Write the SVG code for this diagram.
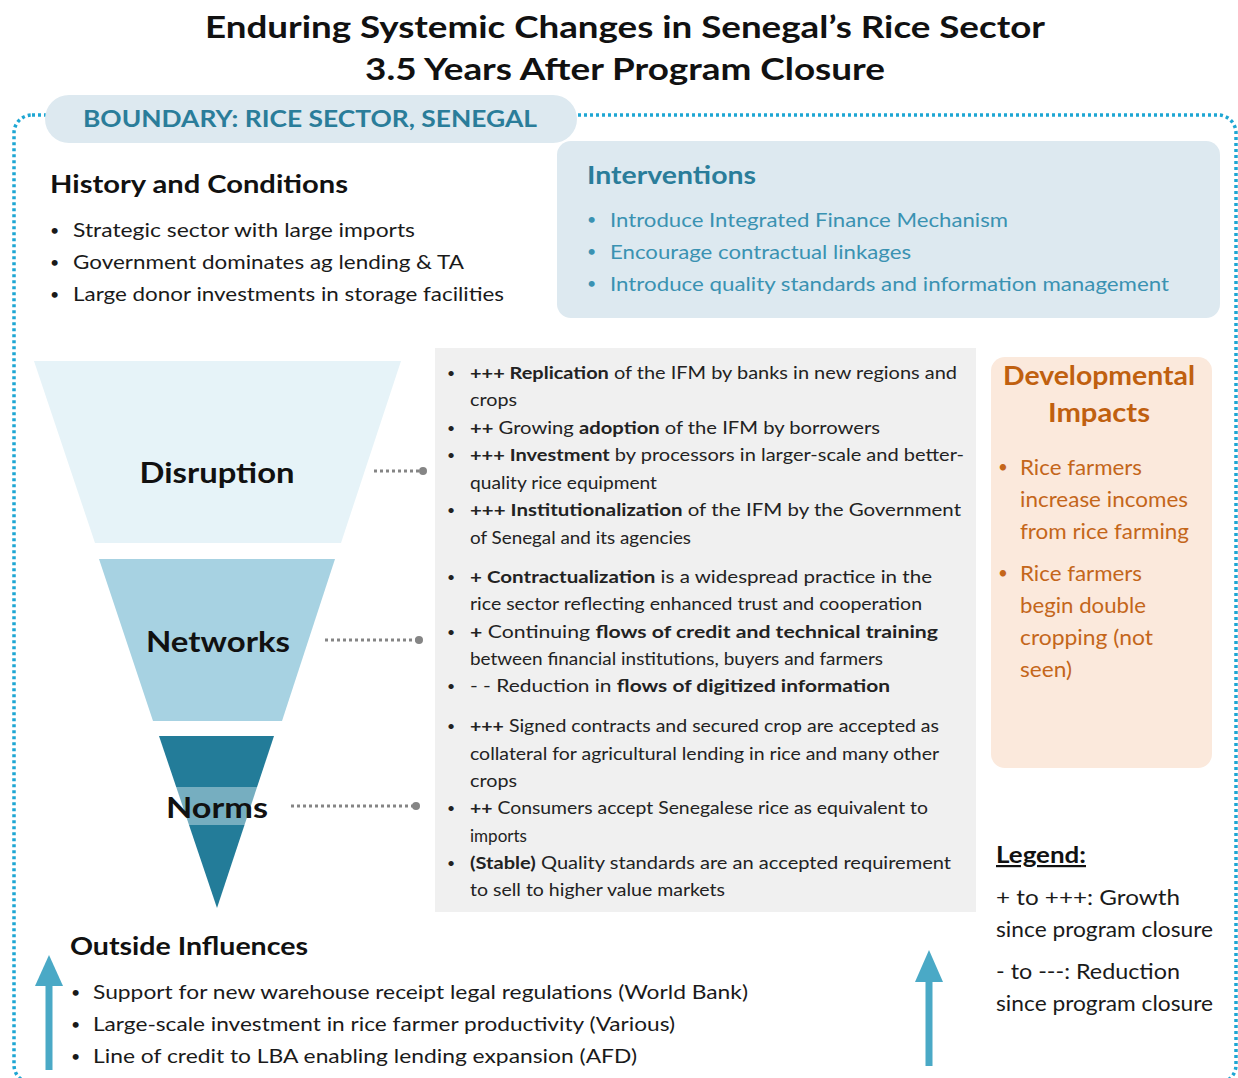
<svg xmlns="http://www.w3.org/2000/svg" width="1238" height="1078" viewBox="0 0 1238 1078">
<style>
text{font-family:Lato,"Open Sans","Liberation Sans",sans-serif;}
.title{font-size:31px;font-weight:bold;fill:#111;text-anchor:middle;}
.h{font-size:24px;font-weight:bold;fill:#111;}
.t20{font-size:20px;fill:#1a1a1a;}
.bl{font-size:16px;fill:#1a1a1a;}
.iv{font-size:20px;fill:#3a92b2;}
.ivb{font-size:16px;fill:#3a92b2;}
.ivh{font-size:24px;font-weight:bold;fill:#2a7d9a;}
.g{font-size:17px;fill:#222;}
.gb{font-size:14px;fill:#222;}
.b{font-weight:bold;}
.fun{font-size:28px;font-weight:bold;fill:#111;text-anchor:middle;}
.dv{font-size:21px;fill:#c4661a;}
.dvb{font-size:17px;fill:#c4661a;}
.dvh{font-size:26px;font-weight:bold;fill:#c0600f;text-anchor:middle;}
.lg{font-size:21px;fill:#1a1a1a;}
.conn{stroke:#858585;stroke-width:3;stroke-dasharray:3 3;fill:none;}
.dot{fill:#858585;}
.arrow{fill:#4aa9c6;}
</style>
<rect width="1238" height="1078" fill="#ffffff"/>

<g id="title">
<text class="title" x="625" y="38" textLength="840" lengthAdjust="spacingAndGlyphs">Enduring Systemic Changes in Senegal’s Rice Sector</text>
<text class="title" x="625" y="80" textLength="520" lengthAdjust="spacingAndGlyphs">3.5 Years After Program Closure</text>
</g>

<g id="boundary">
<rect x="14" y="115" width="1222" height="968" rx="18" fill="none" stroke="#1ea6d3" stroke-width="3.5" stroke-dasharray="3 3"/>
<rect x="45" y="95" width="532" height="48" rx="24" fill="#dde9f0"/>
<text x="83" y="127" font-size="22" font-weight="bold" fill="#2a7d9a" textLength="454" lengthAdjust="spacingAndGlyphs">BOUNDARY: RICE SECTOR, SENEGAL</text>
</g>

<g id="history">
<text class="h" x="50" y="193" textLength="298" lengthAdjust="spacingAndGlyphs">History and Conditions</text>
<text class="bl" x="50" y="236">•</text>
<text class="t20" x="73" y="237" textLength="342" lengthAdjust="spacingAndGlyphs">Strategic sector with large imports</text>
<text class="bl" x="50" y="268">•</text>
<text class="t20" x="73" y="269" textLength="391" lengthAdjust="spacingAndGlyphs">Government dominates ag lending &amp; TA</text>
<text class="bl" x="50" y="300">•</text>
<text class="t20" x="73" y="301" textLength="431" lengthAdjust="spacingAndGlyphs">Large donor investments in storage facilities</text>
</g>

<g id="interventions">
<rect x="557" y="141" width="663" height="177" rx="14" fill="#dde9f0"/>
<text class="ivh" x="587" y="184" textLength="169" lengthAdjust="spacingAndGlyphs">Interventions</text>
<text class="ivb" x="587" y="225">•</text>
<text class="iv" x="610" y="227" textLength="398" lengthAdjust="spacingAndGlyphs">Introduce Integrated Finance Mechanism</text>
<text class="ivb" x="587" y="257">•</text>
<text class="iv" x="610" y="259" textLength="301" lengthAdjust="spacingAndGlyphs">Encourage contractual linkages</text>
<text class="ivb" x="587" y="289">•</text>
<text class="iv" x="610" y="291" textLength="559" lengthAdjust="spacingAndGlyphs">Introduce quality standards and information management</text>
</g>

<g id="disruption">
<polygon points="34,361 401,361 341,543 95,543" fill="#e6f3f8"/>
<text class="fun" x="217" y="483" textLength="155" lengthAdjust="spacingAndGlyphs">Disruption</text>
</g>

<g id="networks">
<polygon points="99,559 335,559 282,721 153,721" fill="#a7d2e2"/>
<text class="fun" x="218" y="652" textLength="144" lengthAdjust="spacingAndGlyphs">Networks</text>
</g>

<g id="norms">
<polygon points="159,736 274,736 217,908" fill="#237c99"/>
<rect x="142" y="787" width="148" height="38" fill="#ffffff" opacity="0.38"/>
<text class="fun" x="217" y="818" textLength="102" lengthAdjust="spacingAndGlyphs">Norms</text>
</g>

<g id="connectors">
<line class="conn" x1="374" y1="471" x2="421" y2="471"/>
<circle class="dot" cx="423" cy="471" r="4"/>
<line class="conn" x1="325" y1="640" x2="416" y2="640"/>
<circle class="dot" cx="419" cy="640" r="4"/>
<line class="conn" x1="291" y1="806" x2="413" y2="806"/>
<circle class="dot" cx="416" cy="806" r="4"/>
</g>

<g id="changes">
<rect x="435" y="348" width="541" height="564" fill="#f0f0f0"/>
<text class="gb" x="447" y="378">•</text>
<text class="g" x="470" y="379" textLength="487" lengthAdjust="spacingAndGlyphs"><tspan class="b">+++ Replication</tspan> of the IFM by banks in new regions and</text>
<text class="g" x="470" y="406" textLength="47" lengthAdjust="spacingAndGlyphs">crops</text>
<text class="gb" x="447" y="433">•</text>
<text class="g" x="470" y="434" textLength="410" lengthAdjust="spacingAndGlyphs"><tspan class="b">++</tspan> Growing <tspan class="b">adoption</tspan> of the IFM by borrowers</text>
<text class="gb" x="447" y="460">•</text>
<text class="g" x="470" y="461" textLength="494" lengthAdjust="spacingAndGlyphs"><tspan class="b">+++ Investment</tspan> by processors in larger-scale and better-</text>
<text class="g" x="470" y="489" textLength="187" lengthAdjust="spacingAndGlyphs">quality rice equipment</text>
<text class="gb" x="447" y="515">•</text>
<text class="g" x="470" y="516" textLength="491" lengthAdjust="spacingAndGlyphs"><tspan class="b">+++ Institutionalization</tspan> of the IFM by the Government</text>
<text class="g" x="470" y="544" textLength="221" lengthAdjust="spacingAndGlyphs">of Senegal and its agencies</text>

<text class="gb" x="447" y="582">•</text>
<text class="g" x="470" y="583" textLength="462" lengthAdjust="spacingAndGlyphs"><tspan class="b">+ Contractualization</tspan> is a widespread practice in the</text>
<text class="g" x="470" y="610" textLength="452" lengthAdjust="spacingAndGlyphs">rice sector reflecting enhanced trust and cooperation</text>
<text class="gb" x="447" y="637">•</text>
<text class="g" x="470" y="638" textLength="468" lengthAdjust="spacingAndGlyphs"><tspan class="b">+</tspan> Continuing <tspan class="b">flows of credit and technical training</tspan></text>
<text class="g" x="470" y="665" textLength="413" lengthAdjust="spacingAndGlyphs">between financial institutions, buyers and farmers</text>
<text class="gb" x="447" y="691">•</text>
<text class="g" x="470" y="692" textLength="420" lengthAdjust="spacingAndGlyphs">- - Reduction in <tspan class="b">flows of digitized information</tspan></text>

<text class="gb" x="447" y="731">•</text>
<text class="g" x="470" y="732" textLength="469" lengthAdjust="spacingAndGlyphs"><tspan class="b">+++</tspan> Signed contracts and secured crop are accepted as</text>
<text class="g" x="470" y="760" textLength="469" lengthAdjust="spacingAndGlyphs">collateral for agricultural lending in rice and many other</text>
<text class="g" x="470" y="787" textLength="47" lengthAdjust="spacingAndGlyphs">crops</text>
<text class="gb" x="447" y="813">•</text>
<text class="g" x="470" y="814" textLength="458" lengthAdjust="spacingAndGlyphs"><tspan class="b">++</tspan> Consumers accept Senegalese rice as equivalent to</text>
<text class="g" x="470" y="842" textLength="57" lengthAdjust="spacingAndGlyphs">imports</text>
<text class="gb" x="447" y="868">•</text>
<text class="g" x="470" y="869" textLength="481" lengthAdjust="spacingAndGlyphs"><tspan class="b">(Stable)</tspan> Quality standards are an accepted requirement</text>
<text class="g" x="470" y="896" textLength="255" lengthAdjust="spacingAndGlyphs">to sell to higher value markets</text>
</g>

<g id="impacts">
<rect x="991" y="357" width="221" height="411" rx="14" fill="#fbe9dc"/>
<text class="dvh" x="1099" y="385" textLength="192" lengthAdjust="spacingAndGlyphs">Developmental</text>
<text class="dvh" x="1099" y="422" textLength="102" lengthAdjust="spacingAndGlyphs">Impacts</text>
<text class="dvb" x="998" y="473">•</text>
<text class="dv" x="1020" y="475" textLength="122" lengthAdjust="spacingAndGlyphs">Rice farmers</text>
<text class="dv" x="1020" y="507" textLength="168" lengthAdjust="spacingAndGlyphs">increase incomes</text>
<text class="dv" x="1020" y="539" textLength="169" lengthAdjust="spacingAndGlyphs">from rice farming</text>
<text class="dvb" x="998" y="579">•</text>
<text class="dv" x="1020" y="581" textLength="122" lengthAdjust="spacingAndGlyphs">Rice farmers</text>
<text class="dv" x="1020" y="613" textLength="126" lengthAdjust="spacingAndGlyphs">begin double</text>
<text class="dv" x="1020" y="645" textLength="133" lengthAdjust="spacingAndGlyphs">cropping (not</text>
<text class="dv" x="1020" y="677" textLength="52" lengthAdjust="spacingAndGlyphs">seen)</text>
</g>

<g id="legend">
<text x="996" y="863" font-size="22" font-weight="bold" fill="#111" text-decoration="underline" textLength="90" lengthAdjust="spacingAndGlyphs">Legend:</text>
<text class="lg" x="996" y="905" textLength="184" lengthAdjust="spacingAndGlyphs">+ to +++:  Growth</text>
<text class="lg" x="996" y="937" textLength="217" lengthAdjust="spacingAndGlyphs">since program  closure</text>
<text class="lg" x="996" y="979" textLength="184" lengthAdjust="spacingAndGlyphs">- to ---:  Reduction</text>
<text class="lg" x="996" y="1011" textLength="217" lengthAdjust="spacingAndGlyphs">since program  closure</text>
</g>

<g id="outside">
<text class="h" x="70" y="955" textLength="238" lengthAdjust="spacingAndGlyphs">Outside Influences</text>
<text class="bl" x="71" y="998">•</text>
<text class="t20" x="93" y="999" textLength="655" lengthAdjust="spacingAndGlyphs">Support for new warehouse receipt legal regulations (World Bank)</text>
<text class="bl" x="71" y="1030">•</text>
<text class="t20" x="93" y="1031" textLength="582" lengthAdjust="spacingAndGlyphs">Large-scale investment in rice farmer productivity (Various)</text>
<text class="bl" x="71" y="1062">•</text>
<text class="t20" x="93" y="1063" textLength="544" lengthAdjust="spacingAndGlyphs">Line of credit to LBA enabling lending expansion (AFD)</text>
</g>

<g id="arrow-left">
<polygon class="arrow" points="49,955 63,986 35,986"/>
<rect class="arrow" x="45.5" y="984" width="7" height="86"/>
</g>
<g id="arrow-right">
<polygon class="arrow" points="929,950 943,982 915,982"/>
<rect class="arrow" x="925.5" y="980" width="7" height="86"/>
</g>
</svg>
